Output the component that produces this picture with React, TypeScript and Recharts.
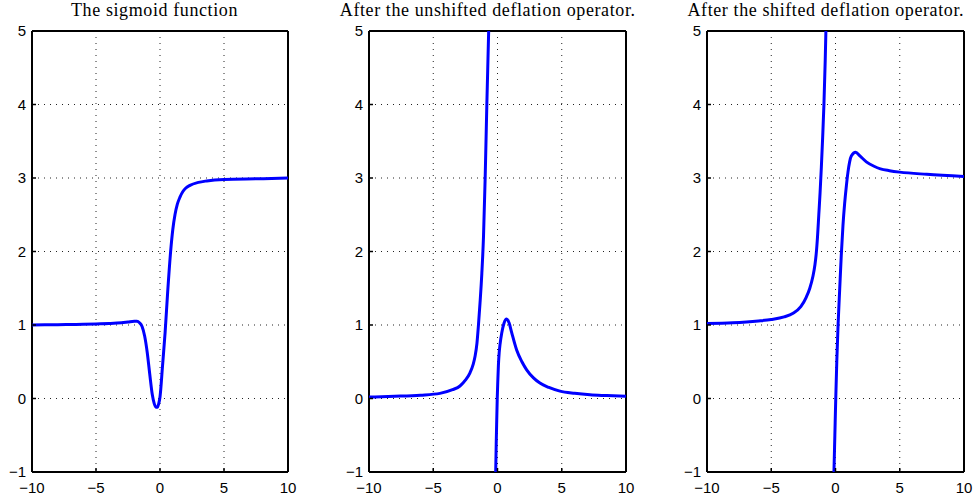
import React from "react";
import { LineChart, Line, XAxis, YAxis, CartesianGrid, ReferenceLine } from "recharts";

// axis ticks shared by all three panels
const xTicks = [-10, -5, 0, 5, 10];
const yTicks = [-1, 0, 1, 2, 3, 4, 5];
const xGrid = [-5, 0, 5];
const yGrid = [0, 1, 2, 3, 4];

const titles = [
  "The sigmoid function",
  "After the unshifted deflation operator.",
  "After the shifted deflation operator.",
];

// panel 1: sigmoid
const sigmoidX = [-10, -8, -6, -5, -4, -3, -2.5, -2, -1.8, -1.6, -1.4, -1.2, -1.0, -0.8, -0.6, -0.45, -0.3, -0.2, -0.1, 0, 0.2, 0.4, 0.6, 0.83, 1.0, 1.17, 1.35, 1.56, 1.8, 2.0, 2.34, 3.0, 3.65, 5, 7.8, 10];
const sigmoidY = [1.0, 1.005, 1.01, 1.015, 1.02, 1.03, 1.04, 1.05, 1.05, 1.03, 0.98, 0.85, 0.63, 0.33, 0.05, -0.07, -0.12, -0.12, -0.07, 0.02, 0.45, 0.9, 1.45, 2.0, 2.3, 2.5, 2.64, 2.74, 2.82, 2.86, 2.9, 2.94, 2.96, 2.98, 2.99, 3.0];

// panel 2: unshifted deflation, two branches
const unshiftedLeftX = [-10, -8, -6, -4.48, -3.5, -2.92, -2.5, -2.14, -1.9, -1.75, -1.6, -1.49, -1.36, -1.22, -1.09, -0.96, -0.83, -0.68, -0.6];
const unshiftedLeftY = [0.02, 0.03, 0.045, 0.07, 0.12, 0.17, 0.25, 0.35, 0.46, 0.57, 0.75, 0.98, 1.3, 1.7, 2.2, 3.0, 4.0, 5.05, 5.7];
const unshiftedRightX = [-0.16, -0.14, -0.1, -0.06, -0.02, 0.02, 0.07, 0.13, 0.2, 0.33, 0.5, 0.72, 0.9, 1.1, 1.49, 1.9, 2.27, 2.8, 3.3, 4, 4.86, 6, 7.2, 8.5, 10];
const unshiftedRightY = [-1.2, -1.0, -0.62, -0.3, 0.0, 0.22, 0.45, 0.62, 0.74, 0.89, 1.02, 1.08, 1.03, 0.9, 0.66, 0.5, 0.39, 0.28, 0.21, 0.15, 0.1, 0.07, 0.05, 0.04, 0.03];

// panel 3: shifted deflation, two branches
const shiftedLeftX = [-10, -8, -6, -5, -4, -3.3, -2.7, -2.27, -2, -1.76, -1.6, -1.5, -1.4, -1.3, -1.2, -1.1, -1.0, -0.9, -0.8, -0.72, -0.65];
const shiftedLeftY = [1.02, 1.03, 1.055, 1.075, 1.11, 1.16, 1.25, 1.38, 1.5, 1.66, 1.82, 1.97, 2.2, 2.5, 2.8, 3.15, 3.55, 4.0, 4.6, 5.2, 5.8];
const shiftedRightX = [-0.14, -0.12, -0.05, 0.02, 0.1, 0.2, 0.33, 0.45, 0.58, 0.71, 0.85, 0.97, 1.1, 1.23, 1.57, 1.9, 2.4, 3.0, 3.5, 4.2, 5, 7.1, 10];
const shiftedRightY = [-1.15, -1.0, -0.5, 0.0, 0.5, 1.0, 1.5, 1.95, 2.35, 2.65, 2.9, 3.08, 3.22, 3.3, 3.35, 3.3, 3.22, 3.16, 3.125, 3.1, 3.08, 3.05, 3.02];

const zip = (xs: number[], ys: number[]) => xs.map((x, i) => ({ x, y: ys[i] }));
const fmt = (v: number) => String(v).replace("-", "\u2212");

const FONT = '"Liberation Sans", Arial, sans-serif';
const TICK = 4; // inward tick length
const X_MARGIN = 10;
const Y_MARGIN = 6;

// tick renderers: label plus an inward tick mark
const BottomTick = (p: any) => (
  <g>
    <line x1={p.x} x2={p.x} y1={p.y - X_MARGIN} y2={p.y - X_MARGIN - TICK} stroke="#000" strokeWidth={1.5} />
    <text x={p.x} y={p.y} dy="0.71em" textAnchor="middle" fill="#000" fontSize={15} fontFamily={FONT}>
      {fmt(p.payload.value)}
    </text>
  </g>
);
const LeftTick = (p: any) => (
  <g>
    <line x1={p.x + Y_MARGIN} x2={p.x + Y_MARGIN + TICK} y1={p.y} y2={p.y} stroke="#000" strokeWidth={1.5} />
    <text x={p.x} y={p.y} dy="0.355em" textAnchor="end" fill="#000" fontSize={15} fontFamily={FONT}>
      {fmt(p.payload.value)}
    </text>
  </g>
);
const TopTick = (p: any) => <line x1={p.x} x2={p.x} y1={p.y} y2={p.y + TICK} stroke="#000" strokeWidth={1.5} />;
const RightTick = (p: any) => <line x1={p.x} x2={p.x - TICK} y1={p.y} y2={p.y} stroke="#000" strokeWidth={1.5} />;

type PanelProps = {
  plotLeft: number;
  plotRight: number;
  title: string;
  titleCenter: number;
  series: { x: number; y: number }[][];
};

const PLOT_TOP = 31;

function Panel({ plotLeft, plotRight, title, titleCenter, series }: PanelProps) {
  const left = plotLeft - 40;
  const width = plotRight - left + 10;
  return (
    <>
      <div
        style={{
          position: "absolute",
          left: titleCenter - 200,
          top: 0,
          width: 400,
          textAlign: "center",
          fontFamily: '"Liberation Serif", serif',
          fontSize: 18,
          letterSpacing: 0.6,
          lineHeight: "20px",
          whiteSpace: "nowrap",
        }}
      >
        {title}
      </div>
      <div style={{ position: "absolute", left, top: 0 }}>
        <LineChart width={width} height={500} margin={{ top: PLOT_TOP, right: 10, bottom: 8, left: 16 }}>
          <CartesianGrid stroke="#222" strokeDasharray="1 5" horizontalValues={yGrid} verticalValues={xGrid} />
          <XAxis
            type="number"
            dataKey="x"
            domain={[-10, 10]}
            ticks={xTicks}
            interval={0}
            allowDataOverflow
            tickSize={0}
            tickMargin={X_MARGIN}
            tickLine={false}
            axisLine={false}
            height={20}
            tick={BottomTick}
          />
          <XAxis
            xAxisId="top"
            orientation="top"
            type="number"
            domain={[-10, 10]}
            ticks={xTicks}
            interval={0}
            allowDataOverflow
            tickSize={0}
            tickMargin={0}
            tickLine={false}
            axisLine={false}
            height={0}
            tick={TopTick}
          />
          <YAxis
            type="number"
            domain={[-1, 5]}
            ticks={yTicks}
            interval={0}
            allowDataOverflow
            tickSize={0}
            tickMargin={Y_MARGIN}
            tickLine={false}
            axisLine={false}
            width={24}
            tick={LeftTick}
          />
          <YAxis
            yAxisId="right"
            orientation="right"
            type="number"
            domain={[-1, 5]}
            ticks={yTicks}
            interval={0}
            allowDataOverflow
            tickSize={0}
            tickMargin={0}
            tickLine={false}
            axisLine={false}
            width={0}
            tick={RightTick}
          />
          {/* axes box */}
          <ReferenceLine x={-10} stroke="#000" strokeWidth={2} ifOverflow="visible" />
          <ReferenceLine x={10} stroke="#000" strokeWidth={2} ifOverflow="visible" />
          <ReferenceLine y={-1} stroke="#000" strokeWidth={2} ifOverflow="visible" />
          <ReferenceLine y={5} stroke="#000" strokeWidth={2} ifOverflow="visible" />
          {series.map((d, i) => (
            <Line
              key={i}
              data={d}
              dataKey="y"
              type="monotone"
              stroke="#0000ff"
              strokeWidth={3}
              dot={false}
              isAnimationActive={false}
            />
          ))}
        </LineChart>
      </div>
    </>
  );
}

export default function App() {
  return (
    <div style={{ position: "absolute", left: 0, top: 0, width: 974, height: 500, background: "#fff" }}>
      <Panel plotLeft={32} plotRight={288} title={titles[0]} titleCenter={154.5} series={[zip(sigmoidX, sigmoidY)]} />
      <Panel
        plotLeft={369}
        plotRight={626}
        title={titles[1]}
        titleCenter={487.7}
        series={[zip(unshiftedLeftX, unshiftedLeftY), zip(unshiftedRightX, unshiftedRightY)]}
      />
      <Panel
        plotLeft={707}
        plotRight={964}
        title={titles[2]}
        titleCenter={825.8}
        series={[zip(shiftedLeftX, shiftedLeftY), zip(shiftedRightX, shiftedRightY)]}
      />
    </div>
  );
}
